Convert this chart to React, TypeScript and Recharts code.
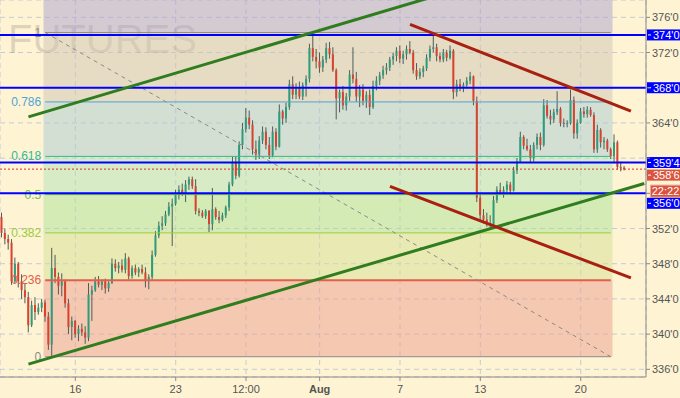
import React from "react";
import {
  ComposedChart,
  Bar,
  XAxis,
  YAxis,
  CartesianGrid,
  ReferenceLine,
  ReferenceArea,
  Customized,
} from "recharts";

// hourly-ish bars
const opens = [
  353.3, 351.5, 350.8, 350.4, 346.0, 348.0, 346.0, 345.0, 344.2, 341.0,
  343.3, 342.5, 343.0, 343.6, 342.0, 338.8, 347.5, 346.5, 345.5, 346.0,
  343.5, 340.8, 341.5, 340.0, 340.6, 340.2, 339.6, 344.5, 345.0, 346.0,
  345.6, 346.0, 345.2, 345.8, 348.0, 347.5, 347.8, 347.3, 348.6, 346.6,
  347.5, 347.0, 347.4, 347.0, 346.0, 346.5, 349.0, 351.2, 352.3, 352.6,
  353.6, 354.5, 354.8, 355.8, 356.4, 356.0, 357.0, 357.6, 356.8, 354.0,
  353.8, 353.4, 354.0, 352.5, 354.2, 353.3, 353.0, 353.5, 354.4, 357.0,
  359.6, 358.0, 361.5, 363.3, 364.6, 363.8, 361.0, 360.4, 362.0, 363.0,
  361.5, 360.3, 363.0, 361.3, 365.3, 364.5, 365.8, 368.4, 367.2, 368.0,
  367.0, 368.3, 369.0, 372.5, 371.5, 371.0, 370.3, 371.2, 372.5, 371.8,
  370.0, 366.8, 367.5, 366.0, 367.0, 369.5, 369.0, 367.0, 367.8, 366.5,
  367.2, 365.8, 368.2, 368.8, 369.4, 370.0, 370.3, 371.2, 371.6, 372.2,
  371.3, 371.8, 372.4, 372.0, 370.0, 369.3, 369.8, 370.2, 371.4, 372.4,
  372.6, 371.6, 371.2, 372.0, 371.4, 372.2, 367.5, 368.4, 368.0, 368.3,
  368.8, 369.3, 366.5, 355.5, 353.5, 353.0, 352.6, 352.4, 355.2, 356.4,
  356.0, 356.4, 357.0, 356.3, 358.6, 359.6, 362.4, 361.4, 361.0, 360.0,
  361.5, 362.4, 361.5, 366.0, 364.8, 364.4, 365.2, 365.6, 364.0, 363.9,
  364.0, 366.6, 362.8, 364.0, 365.3, 365.0, 365.5, 364.9, 361.0, 363.2,
  361.8, 362.0, 361.0, 360.2, 361.8, 359.0, 358.9,
];
const highs = [
  353.8, 352.0, 351.3, 350.8, 348.7, 348.2, 346.8, 345.8, 344.8, 343.8,
  344.2, 343.5, 344.0, 343.9, 342.5, 349.8, 349.0, 347.0, 346.9, 346.2,
  344.0, 342.0, 341.6, 341.0, 341.2, 340.9, 345.8, 345.5, 346.5, 346.6,
  346.2, 346.3, 346.0, 348.6, 348.5, 348.2, 348.5, 349.2, 348.8, 347.8,
  347.9, 347.6, 347.9, 347.6, 346.8, 349.5, 351.7, 352.8, 353.4, 354.0,
  355.0, 355.4, 356.4, 356.9, 357.1, 357.5, 357.9, 357.9, 357.6, 354.3,
  354.1, 354.2, 354.1, 356.6, 354.4, 354.0, 353.8, 354.6, 357.3, 360.2,
  360.2, 361.9, 364.0, 365.7, 365.4, 364.3, 362.0, 362.5, 363.6, 363.5,
  362.4, 363.6, 363.4, 366.1, 365.5, 366.3, 368.9, 369.3, 368.5, 368.7,
  368.6, 369.4, 373.0, 374.3, 372.4, 372.0, 371.6, 373.1, 373.2, 372.6,
  370.2, 367.8, 368.2, 367.4, 370.0, 372.6, 369.8, 368.3, 368.4, 367.6,
  367.8, 368.8, 369.3, 369.8, 370.5, 370.8, 371.5, 372.0, 372.6, 372.8,
  372.2, 372.8, 373.3, 372.3, 370.8, 370.2, 370.5, 371.8, 372.8, 374.1,
  373.0, 372.0, 372.4, 372.3, 372.8, 372.4, 368.9, 369.0, 368.6, 369.2,
  369.8, 369.4, 367.0, 356.0, 354.2, 353.8, 353.5, 355.7, 356.8, 357.2,
  356.8, 357.4, 357.3, 359.0, 360.0, 363.0, 362.6, 362.2, 361.5, 361.8,
  362.8, 362.9, 366.7, 366.6, 365.5, 365.6, 367.6, 365.8, 364.5, 364.3,
  367.8, 367.0, 364.4, 365.7, 365.8, 365.9, 365.8, 365.2, 363.8, 363.4,
  362.4, 362.2, 361.2, 362.7, 362.0, 359.6, 359.1,
];
const lows = [
  351.0, 350.2, 349.6, 345.6, 345.8, 345.3, 344.0, 343.5, 340.2, 340.8,
  341.6, 342.2, 342.5, 341.4, 338.2, 337.4, 345.8, 344.5, 344.3, 343.0,
  340.0, 339.3, 339.6, 339.2, 339.8, 338.9, 339.2, 341.5, 344.8, 345.3,
  345.0, 344.6, 344.8, 345.7, 347.1, 346.9, 347.0, 346.9, 346.2, 346.3,
  346.7, 346.5, 346.8, 345.3, 345.1, 346.2, 348.8, 350.9, 351.8, 352.3,
  353.4, 350.0, 354.6, 355.3, 355.7, 355.0, 356.4, 356.5, 353.6, 353.4,
  353.2, 353.1, 351.6, 351.8, 353.0, 352.6, 352.8, 353.2, 354.0, 356.8,
  357.6, 357.8, 361.0, 362.9, 363.3, 360.4, 359.8, 359.9, 361.6, 361.0,
  359.9, 360.1, 360.9, 361.2, 363.8, 364.0, 365.5, 366.7, 366.7, 366.7,
  366.6, 367.0, 368.6, 371.0, 370.2, 369.7, 369.8, 370.8, 371.3, 369.8,
  364.4, 365.2, 365.5, 365.4, 366.5, 368.5, 366.4, 365.8, 366.0, 365.7,
  364.9, 365.6, 367.7, 368.3, 369.0, 369.5, 369.9, 370.6, 371.0, 370.8,
  370.7, 371.2, 371.8, 369.6, 368.9, 369.0, 369.2, 369.9, 371.0, 372.0,
  371.0, 370.9, 370.9, 371.0, 371.2, 366.7, 367.0, 367.6, 367.5, 367.9,
  368.4, 366.0, 355.0, 353.0, 352.6, 352.2, 352.1, 352.2, 354.9, 355.8,
  355.5, 356.0, 355.9, 356.2, 358.2, 359.5, 361.0, 360.8, 359.5, 359.6,
  361.0, 360.9, 361.3, 364.5, 363.8, 364.0, 364.9, 363.6, 363.5, 363.5,
  363.8, 362.2, 362.2, 363.9, 364.6, 364.6, 364.7, 360.6, 360.6, 361.2,
  361.0, 360.7, 359.9, 359.4, 358.7, 358.5, 358.6,
];
const closes = [
  351.5, 350.8, 350.4, 346.0, 348.0, 346.0, 345.0, 344.2, 341.0, 343.3,
  342.5, 343.0, 343.6, 342.0, 338.8, 347.5, 346.5, 345.5, 346.0, 343.5,
  340.8, 341.5, 340.0, 340.6, 340.2, 339.6, 344.5, 345.0, 346.0, 345.6,
  346.0, 345.2, 345.8, 348.0, 347.5, 347.8, 347.3, 348.6, 346.6, 347.5,
  347.0, 347.4, 347.0, 346.0, 346.5, 349.0, 351.2, 352.3, 352.6, 353.6,
  354.5, 354.8, 355.8, 356.4, 356.0, 357.0, 357.6, 356.8, 354.0, 353.8,
  353.4, 354.0, 352.5, 354.2, 353.3, 353.0, 353.5, 354.4, 357.0, 359.6,
  358.0, 361.5, 363.3, 364.6, 363.8, 361.0, 360.4, 362.0, 363.0, 361.5,
  360.3, 363.0, 361.3, 365.3, 364.5, 365.8, 368.4, 367.2, 368.0, 367.0,
  368.3, 369.0, 372.5, 371.5, 371.0, 370.3, 371.2, 372.5, 371.8, 370.0,
  366.8, 367.5, 366.0, 367.0, 369.5, 369.0, 367.0, 367.8, 366.5, 367.2,
  365.8, 368.2, 368.8, 369.4, 370.0, 370.3, 371.2, 371.6, 372.2, 371.3,
  371.8, 372.4, 372.0, 370.0, 369.3, 369.8, 370.2, 371.4, 372.4, 372.6,
  371.6, 371.2, 372.0, 371.4, 372.2, 367.5, 368.4, 368.0, 368.3, 368.8,
  369.3, 366.5, 355.5, 353.5, 353.0, 352.6, 352.4, 355.2, 356.4, 356.0,
  356.4, 357.0, 356.3, 358.6, 359.6, 362.4, 361.4, 361.0, 360.0, 361.5,
  362.4, 361.5, 366.0, 364.8, 364.4, 365.2, 365.6, 364.0, 363.9, 364.0,
  366.6, 362.8, 364.0, 365.3, 365.0, 365.5, 364.9, 361.0, 363.2, 361.8,
  362.0, 361.0, 360.2, 361.8, 359.0, 358.9, 358.75,
];
const SLOTS = 193; // empty slots keep room on the right

const tickIdx = [22, 52, 73, 95, 119, 143, 173];
const tickLabels = ["16", "23", "12:00", "Aug", "7", "13", "20"];
const priceTicks = [336, 340, 344, 348, 352, 356, 360, 364, 368, 372, 376];
const coveredTicks = [356, 360, 368]; // hidden behind the level boxes

// fibonacci retracement
const fibHigh = 374.27;
const fibLow = 337.43;
const fibStart = 13;
const fibEnd = 182;
const fibLevels = [1, 0.786, 0.618, 0.5, 0.382, 0.236, 0];
const fibNames = ["1", "0.786", "0.618", "0.5", "0.382", "0.236", "0"];

// horizontal levels
const levels = [374, 368, 359.5, 356];
const levelNames = ["374'0", "368'0", "359'4", "356'0"];
const lastPrice = 358.75;
const lastName = "358'6";
const timerText = "22:22";

// trend lines [index, price]
const greenUpper = [[8, 364.69], [140, 379.6]];
const greenLower = [[8, 336.59], [192, 357.11]];
const redUpper = [[122, 375.2], [188, 365.35]];
const redLower = [[116, 356.78], [188, 346.38]];
const fibDiag = [[fibStart, fibHigh], [fibEnd, fibLow]];

const Y_DOMAIN: [number, number] = [335.125, 377.97];
const BG = "#FEF3D3";
const FONT = "'Liberation Sans', Arial, sans-serif";

const data = Array.from({ length: SLOTS }, (_, i) => ({
  i,
  range: i < closes.length ? [lows[i], highs[i]] : null,
  o: opens[i],
  c: closes[i],
}));

const fibPrice = (l: number) => fibLow + l * (fibHigh - fibLow);
const fibColors = ["#8c8c8c", "#4ea6d6", "#35b894", "#6cc24a", "#9ccc3c", "#e0604c", "#8c8c8c"];
// zone fills at 50% over the cream background
const zoneFills = ["#AAA1D1", "#CEC5B3", "#A8CBD3", "#AEE3B9", "#ACE399", "#D4DF95", "#EC9F8F"];

const Candle = (props: any) => {
  const { x, y, width, height, payload } = props;
  if (!payload || payload.range == null) return null;
  const [lo, hi] = payload.range;
  const yTop = Math.min(y, y + height);
  const yBot = Math.max(y, y + height);
  const py = (p: number) => (hi === lo ? yTop : yBot - ((p - lo) / (hi - lo)) * (yBot - yTop));
  const cx = x + width / 2;
  const up = payload.c >= payload.o;
  const t = py(Math.max(payload.o, payload.c));
  const b = py(Math.min(payload.o, payload.c));
  return (
    <g>
      <line x1={cx} x2={cx} y1={yTop} y2={yBot} stroke="#4f5c5a" strokeWidth={1} />
      <rect x={cx - 1} y={t} width={2} height={Math.max(1, b - t)} fill={up ? "#2e9c7c" : "#d8432f"} />
    </g>
  );
};

const XTick = (props: any) => {
  const { x, y, payload } = props;
  const label = tickLabels[tickIdx.indexOf(payload.value)];
  return (
    <text x={x} y={y} dy={10} textAnchor="middle" fontSize={11} fill="#555"
      fontWeight={label === "Aug" ? "bold" : "normal"}>
      {label}
    </text>
  );
};

const YTick = (props: any) => {
  const { x, y, payload } = props;
  if (coveredTicks.includes(payload.value)) return null;
  return (
    <text x={x} y={y} dominantBaseline="central" fontSize={11} fill="#555">
      {`${payload.value}'0`}
    </text>
  );
};

const AxisBox = ({ viewBox, text, bg, dy = 0 }: any) => {
  if (!viewBox) return null;
  const ax = viewBox.x + viewBox.width;
  const y = viewBox.y + dy;
  return (
    <g>
      <rect x={ax + 1} y={y - 5.5} width={34} height={11} fill={bg} />
      <line x1={ax + 2} x2={ax + 5} y1={y} y2={y} stroke="#fff" />
      <text x={ax + 7} y={y} dominantBaseline="central" fontSize={11} fill="#fff">
        {text}
      </text>
    </g>
  );
};

const PriceBox = ({ viewBox }: any) => {
  if (!viewBox) return null;
  const ax = viewBox.x + viewBox.width;
  const y = viewBox.y + 6;
  return (
    <g>
      <rect x={ax + 1} y={y - 5.5} width={34} height={11} fill="#d9533f" />
      <line x1={ax + 2} x2={ax + 5} y1={y} y2={y} stroke="#fff" />
      <text x={ax + 7} y={y} dominantBaseline="central" fontSize={11} fill="#fff">
        {lastName}
      </text>
      <rect x={ax + 4.5} y={y + 10} width={30} height={12} fill="#d9533f" stroke="#f2a896" />
      <text x={ax + 19.5} y={y + 16} dominantBaseline="central" textAnchor="middle" fontSize={11} fill="#fff">
        {timerText}
      </text>
    </g>
  );
};

const FibLabel = ({ viewBox, text, color }: any) => {
  if (!viewBox) return null;
  return (
    <text x={viewBox.x - 4} y={viewBox.y} dominantBaseline="central" textAnchor="end" fontSize={12} fill={color}>
      {text}
    </text>
  );
};

const Watermark = () => (
  <text x={8} y={53} fontSize={40} fill="#6e6262" fillOpacity={0.22}>
    FUTURES
  </text>
);

const seg = (pts: number[][]) => pts.map(([x, y]) => ({ x, y }));

export default function App() {
  return (
    <div style={{ position: "fixed", left: 0, top: 0, width: 680, height: 398, background: BG, fontFamily: FONT }}>
      <ComposedChart width={680} height={398} data={data} margin={{ top: 0, right: 0, bottom: 0, left: 0 }} barCategoryGap={0}>
        <CartesianGrid stroke="#c6cad6" strokeDasharray="5 4" />
        {fibLevels.map((l, k) => (
          <ReferenceArea
            key={"z" + k}
            x1={fibStart}
            x2={fibEnd}
            y1={fibPrice(l)}
            y2={k === 0 ? Y_DOMAIN[1] : fibPrice(fibLevels[k - 1])}
            fill={zoneFills[k]}
            fillOpacity={0.5}
            stroke="none"
            ifOverflow="hidden"
          />
        ))}
        <Customized component={Watermark} />
        {fibLevels.map((l, k) => (
          <ReferenceLine
            key={"f" + k}
            segment={[{ x: fibStart, y: fibPrice(l) }, { x: fibEnd, y: fibPrice(l) }]}
            stroke={fibColors[k]}
            strokeWidth={l === 0.236 ? 2 : 1}
            label={(p: any) => <FibLabel viewBox={p.viewBox} text={fibNames[k]} color={fibColors[k]} />}
          />
        ))}
        <ReferenceLine segment={seg(fibDiag)} stroke="#8a8a8a" strokeDasharray="4 4" />
        <XAxis
          dataKey="i"
          type="category"
          ticks={tickIdx}
          interval={0}
          tick={<XTick />}
          tickSize={4}
          height={21}
          stroke="#8a8a8a"
        />
        <YAxis
          orientation="right"
          type="number"
          domain={Y_DOMAIN}
          allowDataOverflow
          ticks={priceTicks}
          interval={0}
          width={34}
          tickSize={4}
          tick={<YTick />}
          stroke="#8a8a8a"
        />
        <Bar dataKey="range" isAnimationActive={false} shape={(p: any) => <Candle {...p} />} />
        <ReferenceLine
          y={lastPrice}
          stroke="#e03020"
          strokeDasharray="2 2"
          label={(p: any) => <PriceBox viewBox={p.viewBox} />}
        />
        {levels.map((v, k) => (
          <ReferenceLine
            key={"l" + k}
            y={v}
            stroke="#0000ff"
            strokeWidth={2}
            label={(p: any) => (
              <AxisBox viewBox={p.viewBox} text={levelNames[k]} bg="#0000ff" dy={v === 356 ? 10 : 0} />
            )}
          />
        ))}
        <ReferenceLine segment={seg(greenUpper)} stroke="#2f7d1e" strokeWidth={3} ifOverflow="hidden" />
        <ReferenceLine segment={seg(greenLower)} stroke="#2f7d1e" strokeWidth={3} ifOverflow="hidden" />
        <ReferenceLine segment={seg(redUpper)} stroke="#a8200f" strokeWidth={3} ifOverflow="hidden" />
        <ReferenceLine segment={seg(redLower)} stroke="#a8200f" strokeWidth={3} ifOverflow="hidden" />
      </ComposedChart>
    </div>
  );
}
